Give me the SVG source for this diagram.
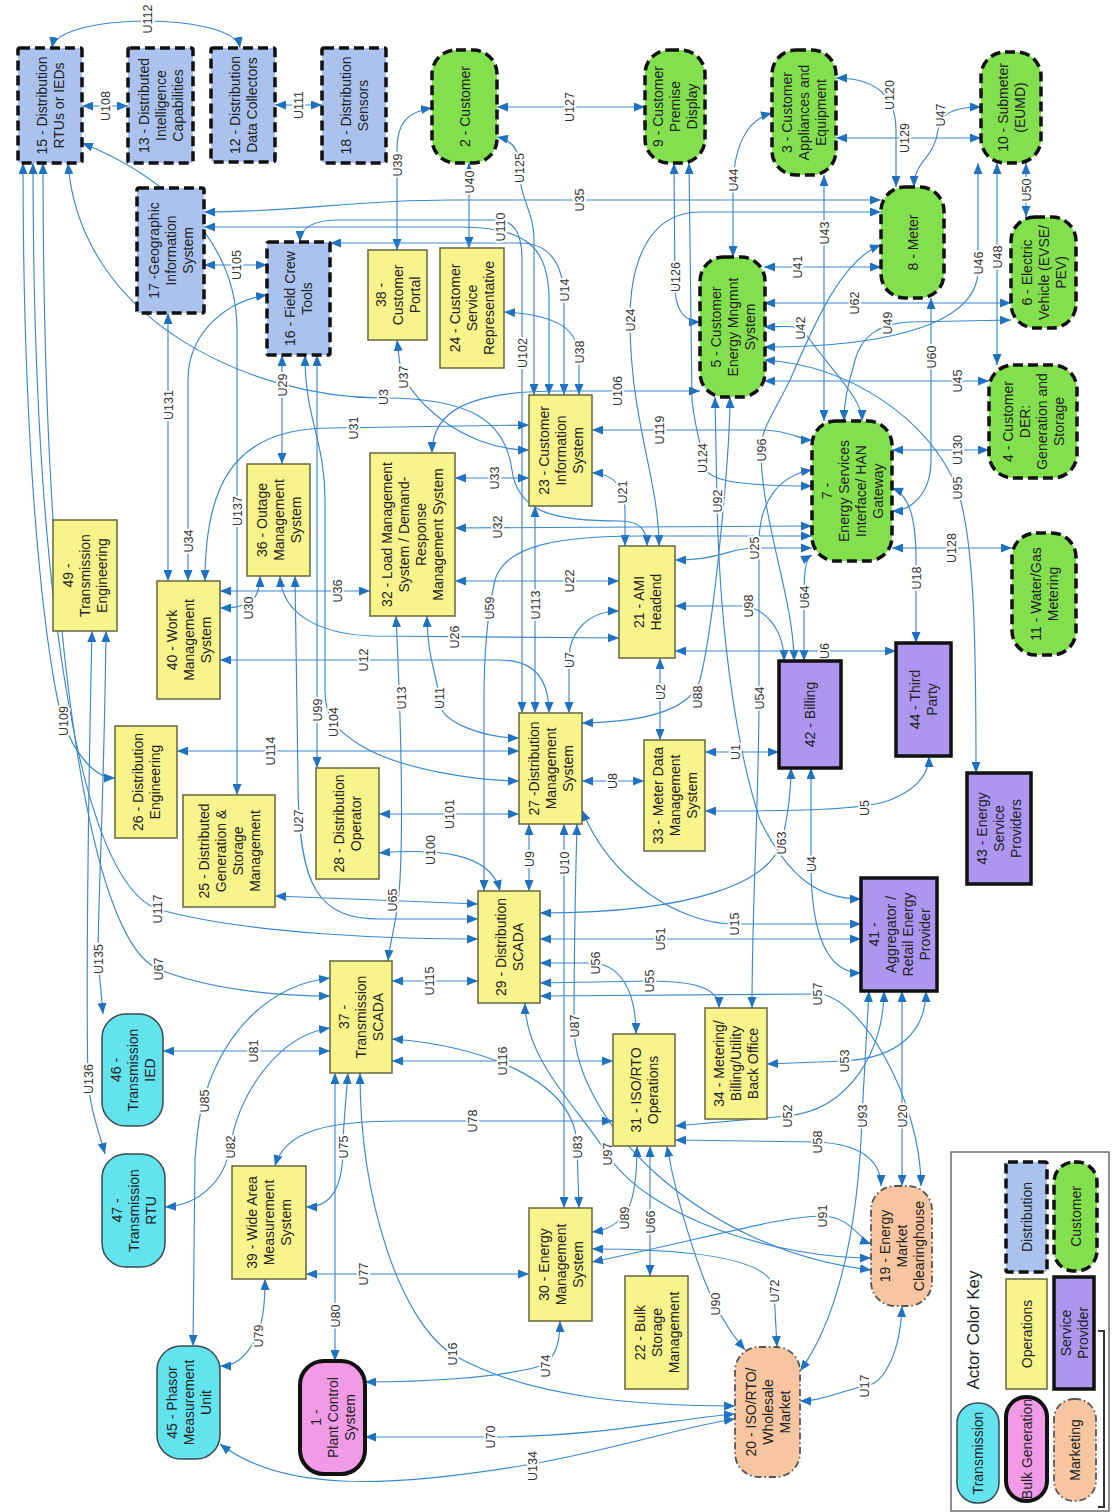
<svg xmlns="http://www.w3.org/2000/svg" width="1116" height="1512" viewBox="0 0 1116 1512">
<defs>
<marker id="a" viewBox="0 0 11 9" refX="11" refY="4.5" markerWidth="11" markerHeight="9" markerUnits="userSpaceOnUse" orient="auto-start-reverse"><path d="M0,0 L11,4.5 L0,9 z" fill="#1f72bf"/></marker>
<style>
.c{fill:none;stroke:#3a88cf;stroke-width:1.15;marker-start:url(#a);marker-end:url(#a)}
.l{font-family:"Liberation Sans",Arial,sans-serif;font-size:12.5px;fill:#333;text-anchor:middle;stroke:#fff;stroke-width:4;paint-order:stroke;stroke-linejoin:round}
.t{font-family:"Liberation Sans",Arial,sans-serif;font-size:14px;fill:#222;text-anchor:middle}
.dist{fill:#abc2ef;stroke:#111;stroke-width:3.5;stroke-dasharray:10 5}
.cust{fill:#82e04e;stroke:#111;stroke-width:3.5;stroke-dasharray:10 5}
.ops{fill:#f8f48c;stroke:#66663c;stroke-width:1.5}
.sp{fill:#ac96f0;stroke:#111;stroke-width:3.5}
.tr{fill:#63e3ee;stroke:#3a4a50;stroke-width:1.5}
.bg{fill:#f19ae6;stroke:#111;stroke-width:4}
.mk{fill:#f7c6a0;stroke:#555;stroke-width:1.8;stroke-dasharray:7 3 1.5 3}
</style>
</defs>
<rect width="1116" height="1512" fill="#fff"/>
<g id="connectors">
<path class="c" d="M52,48 C58,12 234,12 240,48"/>
<path class="c" d="M82,106 L128,106"/>
<path class="c" d="M275,105 L322,105"/>
<path class="c" d="M204,265 L267,265"/>
<path class="c" d="M497,107 L645,107"/>
<path class="c" d="M432,108 C405,112 397,125 397,150 L397,250"/>
<path class="c" d="M469,163 L469,248"/>
<path class="c" d="M497,137 C512,140 519,150 519,165 C519,200 534,210 534,240 L534,395"/>
<path class="c" d="M204,212 C300,212 350,200 450,200 L881,200"/>
<path class="c" d="M204,227 L460,227 C530,227 549,250 549,300 L549,395"/>
<path class="c" d="M330,243 L520,243 C550,243 564,265 564,300 L564,395"/>
<path class="c" d="M300,242 C300,228 312,220 340,220 L495,220 C514,220 522,232 522,260 L522,713"/>
<path class="c" d="M504,312 C560,315 579,330 579,360 L579,395"/>
<path class="c" d="M772,113 C745,120 733,150 733,190 L733,257"/>
<path class="c" d="M674,163 L675,290 C676,310 685,322 700,322"/>
<path class="c" d="M689,163 L692,400 C695,430 702,445 702,460 C702,480 730,486 812,486"/>
<path class="c" d="M836,78 C880,78 896,100 896,130 L896,187"/>
<path class="c" d="M836,138 L981,138"/>
<path class="c" d="M981,107 C950,107 941,115 938,130 C934,160 914,160 914,187"/>
<path class="c" d="M1026,163 L1026,217"/>
<path class="c" d="M978,163 L978,270 C978,320 900,347 764,347"/>
<path class="c" d="M997,163 L997,365"/>
<path class="c" d="M764,303 L1011,303"/>
<path class="c" d="M764,267 L881,267"/>
<path class="c" d="M824,175 L824,421"/>
<path class="c" d="M764,327 C790,327 799,322 810,340 C840,380 862,400 862,421"/>
<path class="c" d="M1011,320 L910,322 C880,323 862,335 855,360 C850,380 844,395 844,421"/>
<path class="c" d="M931,298 L931,460 C931,495 910,511 892,511"/>
<path class="c" d="M881,212 L700,212 C650,212 630,260 630,320 C630,420 659,480 659,546"/>
<path class="c" d="M881,245 C840,260 812,330 790,380 C770,420 761,430 761,450 C761,520 794,600 794,661"/>
<path class="c" d="M764,381 L989,381"/>
<path class="c" d="M764,360 C850,365 930,420 957,488 C975,540 976,650 976,773"/>
<path class="c" d="M892,450 L989,450"/>
<path class="c" d="M892,548 L1012,548"/>
<path class="c" d="M892,488 C910,495 916,520 916,560 L916,643"/>
<path class="c" d="M700,391 L560,391 C470,391 432,410 432,453"/>
<path class="c" d="M592,430 L760,430 C790,430 800,440 812,440"/>
<path class="c" d="M592,473 C615,473 625,490 625,510 L625,546"/>
<path class="c" d="M68,163 C80,320 250,398 383,398 C470,398 505,420 512,470 C518,515 560,521 620,521 C640,521 647,530 647,546"/>
<path class="c" d="M205,581 C205,490 230,428 330,428 L529,425"/>
<path class="c" d="M397,340 L400,365 C405,395 460,450 529,450"/>
<path class="c" d="M455,478 L529,478"/>
<path class="c" d="M455,528 L812,526"/>
<path class="c" d="M455,581 L619,581"/>
<path class="c" d="M812,536 L640,536 C560,536 505,545 495,580 C488,610 484,650 484,700 L484,891"/>
<path class="c" d="M675,560 C720,560 730,548 754,548 L812,548"/>
<path class="c" d="M812,555 C806,558 804,570 804,595 L804,661"/>
<path class="c" d="M812,470 C780,475 760,500 759,540 L759,698 C759,800 752,900 752,1008"/>
<path class="c" d="M675,606 L740,606 C765,606 784,630 784,661"/>
<path class="c" d="M675,651 L896,651"/>
<path class="c" d="M569,713 L569,660 C569,630 590,611 619,611"/>
<path class="c" d="M535,506 L535,713"/>
<path class="c" d="M220,660 L500,660 C535,660 549,680 549,713"/>
<path class="c" d="M280,576 C282,615 320,634 372,636 L619,638"/>
<path class="c" d="M220,591 L370,591"/>
<path class="c" d="M260,576 C260,600 250,608 220,608"/>
<path class="c" d="M282,355 L282,464"/>
<path class="c" d="M188,581 L188,380 C188,330 230,300 267,295"/>
<path class="c" d="M168,313 L168,581"/>
<path class="c" d="M82,143 C150,170 237,230 237,330 L237,795"/>
<path class="c" d="M427,616 C427,660 439,680 439,700 C439,725 490,738 519,738"/>
<path class="c" d="M396,616 C400,700 404,800 400,880 C398,920 390,940 388,961"/>
<path class="c" d="M177,751 L519,751"/>
<path class="c" d="M305,355 C305,420 325,440 325,500 L325,690 C325,720 338,731 360,745 C400,770 480,781 519,781"/>
<path class="c" d="M317,355 L317,768"/>
<path class="c" d="M379,814 L519,814"/>
<path class="c" d="M379,853 C430,849 490,850 500,891"/>
<path class="c" d="M295,576 L298,780 C298,890 320,919 380,919 L478,919"/>
<path class="c" d="M275,896 L478,904"/>
<path class="c" d="M33,163 C33,600 80,880 157,909 C250,935 400,939 478,939"/>
<path class="c" d="M43,163 C43,650 90,940 158,969 C210,990 280,996 330,996"/>
<path class="c" d="M23,163 C23,500 50,680 63,721 C75,755 95,778 115,778"/>
<path class="c" d="M106,631 C104,800 98,900 98,959 L103,1014"/>
<path class="c" d="M92,631 C88,800 86,1000 88,1079 C90,1110 100,1135 105,1154"/>
<path class="c" d="M193,1346 L195,1160 C197,1130 200,1110 205,1095 C225,1030 270,985 330,978"/>
<path class="c" d="M165,1207 C200,1205 225,1180 230,1147 C240,1090 280,1035 330,1028"/>
<path class="c" d="M163,1051 L330,1051"/>
<path class="c" d="M348,1073 C345,1110 343,1130 343,1147 C343,1190 330,1207 306,1207"/>
<path class="c" d="M335,1073 L335,1361"/>
<path class="c" d="M306,1274 L529,1274"/>
<path class="c" d="M265,1279 C265,1310 262,1325 255,1340 C245,1358 235,1366 220,1366"/>
<path class="c" d="M360,1073 C360,1200 400,1320 452,1354 C530,1400 650,1406 735,1406"/>
<path class="c" d="M560,1321 C560,1350 552,1362 540,1366 C500,1378 420,1382 365,1382"/>
<path class="c" d="M365,1437 L490,1437 C600,1437 680,1418 735,1414"/>
<path class="c" d="M220,1444 C280,1490 380,1490 532,1464 C620,1448 690,1425 735,1419"/>
<path class="c" d="M275,1166 C285,1130 330,1121 400,1121 L613,1121"/>
<path class="c" d="M392,981 L478,981"/>
<path class="c" d="M392,1061 L613,1061"/>
<path class="c" d="M392,1039 C480,1045 577,1080 577,1147 L579,1208"/>
<path class="c" d="M525,1003 C525,1060 580,1110 607,1154 C650,1220 780,1258 871,1258"/>
<path class="c" d="M577,824 C575,900 574,980 574,1026 C574,1120 700,1250 871,1270"/>
<path class="c" d="M529,824 L529,891"/>
<path class="c" d="M564,824 L564,1208"/>
<path class="c" d="M582,781 L644,781"/>
<path class="c" d="M660,658 L660,740"/>
<path class="c" d="M705,752 L779,752"/>
<path class="c" d="M705,811 C800,811 864,810 890,800 C915,790 929,775 929,756"/>
<path class="c" d="M791,768 C791,800 785,830 781,843 C770,880 700,913 540,913"/>
<path class="c" d="M811,768 L811,864 C811,940 830,973 861,973"/>
<path class="c" d="M582,810 C610,880 680,924 734,924 L861,924"/>
<path class="c" d="M540,939 L861,939"/>
<path class="c" d="M715,397 L717,501 C720,650 740,760 760,820 C790,880 820,899 861,899"/>
<path class="c" d="M582,723 C640,722 690,712 700,680 C715,620 730,450 730,397"/>
<path class="c" d="M540,963 L590,963 C620,963 636,990 636,1034"/>
<path class="c" d="M540,983 L649,981 C700,981 719,990 719,1008"/>
<path class="c" d="M540,996 L817,994 C860,994 921,1100 921,1186"/>
<path class="c" d="M767,1064 L844,1061 C900,1058 926,1030 926,991"/>
<path class="c" d="M675,1126 L787,1116 C850,1110 884,1050 884,991"/>
<path class="c" d="M869,991 L862,1116 C858,1250 830,1330 800,1371"/>
<path class="c" d="M902,991 L902,1186"/>
<path class="c" d="M675,1140 L817,1142 C860,1144 881,1160 881,1186"/>
<path class="c" d="M592,1262 C700,1240 780,1216 822,1216 C850,1216 860,1240 871,1244"/>
<path class="c" d="M637,1146 C637,1200 630,1227 592,1232"/>
<path class="c" d="M650,1146 L650,1276"/>
<path class="c" d="M667,1146 C680,1220 705,1285 715,1304 C725,1325 735,1338 745,1350"/>
<path class="c" d="M592,1249 C700,1249 774,1260 774,1291 L777,1347"/>
<path class="c" d="M902,1306 C900,1360 880,1386 864,1386 C840,1392 820,1401 800,1401"/>
</g>
<g id="labels">
<text class="l" transform="rotate(-90 147 19)" x="147" y="19" dy="4.5">U112</text>
<text class="l" transform="rotate(-90 105 106)" x="105" y="106" dy="4.5">U108</text>
<text class="l" transform="rotate(-90 298 105)" x="298" y="105" dy="4.5">U111</text>
<text class="l" transform="rotate(-90 236 265)" x="236" y="265" dy="4.5">U105</text>
<text class="l" transform="rotate(-90 569 107)" x="569" y="107" dy="4.5">U127</text>
<text class="l" transform="rotate(-90 397 165)" x="397" y="165" dy="4.5">U39</text>
<text class="l" transform="rotate(-90 469 182)" x="469" y="182" dy="4.5">U40</text>
<text class="l" transform="rotate(-90 519 168)" x="519" y="168" dy="4.5">U125</text>
<text class="l" transform="rotate(-90 579 200)" x="579" y="200" dy="4.5">U35</text>
<text class="l" transform="rotate(-90 500 227)" x="500" y="227" dy="4.5">U110</text>
<text class="l" transform="rotate(-90 564 290)" x="564" y="290" dy="4.5">U14</text>
<text class="l" transform="rotate(-90 522 353)" x="522" y="353" dy="4.5">U102</text>
<text class="l" transform="rotate(-90 579 352)" x="579" y="352" dy="4.5">U38</text>
<text class="l" transform="rotate(-90 733 180)" x="733" y="180" dy="4.5">U44</text>
<text class="l" transform="rotate(-90 675 277)" x="675" y="277" dy="4.5">U126</text>
<text class="l" transform="rotate(-90 630 320)" x="630" y="320" dy="4.5">U24</text>
<text class="l" transform="rotate(-90 702 458)" x="702" y="458" dy="4.5">U124</text>
<text class="l" transform="rotate(-90 889 95)" x="889" y="95" dy="4.5">U120</text>
<text class="l" transform="rotate(-90 904 138)" x="904" y="138" dy="4.5">U129</text>
<text class="l" transform="rotate(-90 940 115)" x="940" y="115" dy="4.5">U47</text>
<text class="l" transform="rotate(-90 1026 190)" x="1026" y="190" dy="4.5">U50</text>
<text class="l" transform="rotate(-90 978 263)" x="978" y="263" dy="4.5">U46</text>
<text class="l" transform="rotate(-90 997 257)" x="997" y="257" dy="4.5">U48</text>
<text class="l" transform="rotate(-90 854 303)" x="854" y="303" dy="4.5">U62</text>
<text class="l" transform="rotate(-90 797 267)" x="797" y="267" dy="4.5">U41</text>
<text class="l" transform="rotate(-90 824 233)" x="824" y="233" dy="4.5">U43</text>
<text class="l" transform="rotate(-90 800 328)" x="800" y="328" dy="4.5">U42</text>
<text class="l" transform="rotate(-90 887 323)" x="887" y="323" dy="4.5">U49</text>
<text class="l" transform="rotate(-90 931 357)" x="931" y="357" dy="4.5">U60</text>
<text class="l" transform="rotate(-90 761 450)" x="761" y="450" dy="4.5">U96</text>
<text class="l" transform="rotate(-90 957 381)" x="957" y="381" dy="4.5">U45</text>
<text class="l" transform="rotate(-90 957 488)" x="957" y="488" dy="4.5">U95</text>
<text class="l" transform="rotate(-90 957 450)" x="957" y="450" dy="4.5">U130</text>
<text class="l" transform="rotate(-90 951 548)" x="951" y="548" dy="4.5">U128</text>
<text class="l" transform="rotate(-90 916 578)" x="916" y="578" dy="4.5">U18</text>
<text class="l" transform="rotate(-90 617 391)" x="617" y="391" dy="4.5">U106</text>
<text class="l" transform="rotate(-90 659 430)" x="659" y="430" dy="4.5">U119</text>
<text class="l" transform="rotate(-90 622 492)" x="622" y="492" dy="4.5">U21</text>
<text class="l" transform="rotate(-90 383 397)" x="383" y="397" dy="4.5">U3</text>
<text class="l" transform="rotate(-90 353 428)" x="353" y="428" dy="4.5">U31</text>
<text class="l" transform="rotate(-90 403 377)" x="403" y="377" dy="4.5">U37</text>
<text class="l" transform="rotate(-90 494 478)" x="494" y="478" dy="4.5">U33</text>
<text class="l" transform="rotate(-90 497 527)" x="497" y="527" dy="4.5">U32</text>
<text class="l" transform="rotate(-90 569 581)" x="569" y="581" dy="4.5">U22</text>
<text class="l" transform="rotate(-90 489 608)" x="489" y="608" dy="4.5">U59</text>
<text class="l" transform="rotate(-90 754 548)" x="754" y="548" dy="4.5">U25</text>
<text class="l" transform="rotate(-90 804 597)" x="804" y="597" dy="4.5">U64</text>
<text class="l" transform="rotate(-90 759 698)" x="759" y="698" dy="4.5">U54</text>
<text class="l" transform="rotate(-90 748 606)" x="748" y="606" dy="4.5">U98</text>
<text class="l" transform="rotate(-90 824 651)" x="824" y="651" dy="4.5">U6</text>
<text class="l" transform="rotate(-90 569 660)" x="569" y="660" dy="4.5">U7</text>
<text class="l" transform="rotate(-90 535 605)" x="535" y="605" dy="4.5">U113</text>
<text class="l" transform="rotate(-90 363 660)" x="363" y="660" dy="4.5">U12</text>
<text class="l" transform="rotate(-90 454 637)" x="454" y="637" dy="4.5">U26</text>
<text class="l" transform="rotate(-90 337 591)" x="337" y="591" dy="4.5">U36</text>
<text class="l" transform="rotate(-90 248 608)" x="248" y="608" dy="4.5">U30</text>
<text class="l" transform="rotate(-90 282 385)" x="282" y="385" dy="4.5">U29</text>
<text class="l" transform="rotate(-90 188 541)" x="188" y="541" dy="4.5">U34</text>
<text class="l" transform="rotate(-90 168 405)" x="168" y="405" dy="4.5">U131</text>
<text class="l" transform="rotate(-90 237 511)" x="237" y="511" dy="4.5">U137</text>
<text class="l" transform="rotate(-90 439 698)" x="439" y="698" dy="4.5">U11</text>
<text class="l" transform="rotate(-90 401 698)" x="401" y="698" dy="4.5">U13</text>
<text class="l" transform="rotate(-90 270 751)" x="270" y="751" dy="4.5">U114</text>
<text class="l" transform="rotate(-90 333 722)" x="333" y="722" dy="4.5">U104</text>
<text class="l" transform="rotate(-90 317 710)" x="317" y="710" dy="4.5">U99</text>
<text class="l" transform="rotate(-90 449 814)" x="449" y="814" dy="4.5">U101</text>
<text class="l" transform="rotate(-90 430 850)" x="430" y="850" dy="4.5">U100</text>
<text class="l" transform="rotate(-90 298 821)" x="298" y="821" dy="4.5">U27</text>
<text class="l" transform="rotate(-90 392 900)" x="392" y="900" dy="4.5">U65</text>
<text class="l" transform="rotate(-90 157 909)" x="157" y="909" dy="4.5">U117</text>
<text class="l" transform="rotate(-90 158 969)" x="158" y="969" dy="4.5">U67</text>
<text class="l" transform="rotate(-90 63 721)" x="63" y="721" dy="4.5">U109</text>
<text class="l" transform="rotate(-90 98 959)" x="98" y="959" dy="4.5">U135</text>
<text class="l" transform="rotate(-90 88 1079)" x="88" y="1079" dy="4.5">U136</text>
<text class="l" transform="rotate(-90 204 1101)" x="204" y="1101" dy="4.5">U85</text>
<text class="l" transform="rotate(-90 230 1147)" x="230" y="1147" dy="4.5">U82</text>
<text class="l" transform="rotate(-90 253 1051)" x="253" y="1051" dy="4.5">U81</text>
<text class="l" transform="rotate(-90 343 1147)" x="343" y="1147" dy="4.5">U75</text>
<text class="l" transform="rotate(-90 335 1316)" x="335" y="1316" dy="4.5">U80</text>
<text class="l" transform="rotate(-90 363 1274)" x="363" y="1274" dy="4.5">U77</text>
<text class="l" transform="rotate(-90 258 1336)" x="258" y="1336" dy="4.5">U79</text>
<text class="l" transform="rotate(-90 452 1354)" x="452" y="1354" dy="4.5">U16</text>
<text class="l" transform="rotate(-90 545 1366)" x="545" y="1366" dy="4.5">U74</text>
<text class="l" transform="rotate(-90 490 1437)" x="490" y="1437" dy="4.5">U70</text>
<text class="l" transform="rotate(-90 532 1466)" x="532" y="1466" dy="4.5">U134</text>
<text class="l" transform="rotate(-90 472 1121)" x="472" y="1121" dy="4.5">U78</text>
<text class="l" transform="rotate(-90 429 981)" x="429" y="981" dy="4.5">U115</text>
<text class="l" transform="rotate(-90 502 1061)" x="502" y="1061" dy="4.5">U116</text>
<text class="l" transform="rotate(-90 577 1147)" x="577" y="1147" dy="4.5">U83</text>
<text class="l" transform="rotate(-90 607 1154)" x="607" y="1154" dy="4.5">U97</text>
<text class="l" transform="rotate(-90 574 1026)" x="574" y="1026" dy="4.5">U87</text>
<text class="l" transform="rotate(-90 529 859)" x="529" y="859" dy="4.5">U9</text>
<text class="l" transform="rotate(-90 564 863)" x="564" y="863" dy="4.5">U10</text>
<text class="l" transform="rotate(-90 612 781)" x="612" y="781" dy="4.5">U8</text>
<text class="l" transform="rotate(-90 660 692)" x="660" y="692" dy="4.5">U2</text>
<text class="l" transform="rotate(-90 735 752)" x="735" y="752" dy="4.5">U1</text>
<text class="l" transform="rotate(-90 864 808)" x="864" y="808" dy="4.5">U5</text>
<text class="l" transform="rotate(-90 781 843)" x="781" y="843" dy="4.5">U63</text>
<text class="l" transform="rotate(-90 811 864)" x="811" y="864" dy="4.5">U4</text>
<text class="l" transform="rotate(-90 734 924)" x="734" y="924" dy="4.5">U15</text>
<text class="l" transform="rotate(-90 660 939)" x="660" y="939" dy="4.5">U51</text>
<text class="l" transform="rotate(-90 717 501)" x="717" y="501" dy="4.5">U92</text>
<text class="l" transform="rotate(-90 697 697)" x="697" y="697" dy="4.5">U88</text>
<text class="l" transform="rotate(-90 595 963)" x="595" y="963" dy="4.5">U56</text>
<text class="l" transform="rotate(-90 649 981)" x="649" y="981" dy="4.5">U55</text>
<text class="l" transform="rotate(-90 817 994)" x="817" y="994" dy="4.5">U57</text>
<text class="l" transform="rotate(-90 844 1061)" x="844" y="1061" dy="4.5">U53</text>
<text class="l" transform="rotate(-90 787 1116)" x="787" y="1116" dy="4.5">U52</text>
<text class="l" transform="rotate(-90 862 1116)" x="862" y="1116" dy="4.5">U93</text>
<text class="l" transform="rotate(-90 902 1116)" x="902" y="1116" dy="4.5">U20</text>
<text class="l" transform="rotate(-90 817 1142)" x="817" y="1142" dy="4.5">U58</text>
<text class="l" transform="rotate(-90 822 1216)" x="822" y="1216" dy="4.5">U91</text>
<text class="l" transform="rotate(-90 624 1218)" x="624" y="1218" dy="4.5">U89</text>
<text class="l" transform="rotate(-90 650 1222)" x="650" y="1222" dy="4.5">U66</text>
<text class="l" transform="rotate(-90 715 1304)" x="715" y="1304" dy="4.5">U90</text>
<text class="l" transform="rotate(-90 774 1291)" x="774" y="1291" dy="4.5">U72</text>
<text class="l" transform="rotate(-90 864 1386)" x="864" y="1386" dy="4.5">U17</text>
</g>
<g id="nodes">
<g id="n15"><rect class="dist" x="18" y="48" width="64" height="115" rx="2"/><text class="t" transform="rotate(-90 50 105.5)" x="50" y="105.5"><tspan x="50" dy="-3.5">15 - Distribution</tspan><tspan x="50" dy="17">RTUs or IEDs</tspan></text></g>
<g id="n13"><rect class="dist" x="128" y="48" width="65" height="115" rx="2"/><text class="t" transform="rotate(-90 160.5 105.5)" x="160.5" y="105.5"><tspan x="160.5" dy="-12">13 - Distributed</tspan><tspan x="160.5" dy="17">Intelligence</tspan><tspan x="160.5" dy="17">Capabilities</tspan></text></g>
<g id="n12"><rect class="dist" x="211" y="48" width="64" height="114" rx="2"/><text class="t" transform="rotate(-90 243 105)" x="243" y="105"><tspan x="243" dy="-3.5">12 - Distribution</tspan><tspan x="243" dy="17">Data Collectors</tspan></text></g>
<g id="n18"><rect class="dist" x="322" y="48" width="64" height="115" rx="2"/><text class="t" transform="rotate(-90 354 105.5)" x="354" y="105.5"><tspan x="354" dy="-3.5">18 - Distribution</tspan><tspan x="354" dy="17">Sensors</tspan></text></g>
<g id="n17"><rect class="dist" x="137" y="188" width="67" height="125" rx="2"/><text class="t" transform="rotate(-90 170.5 250.5)" x="170.5" y="250.5"><tspan x="170.5" dy="-12">17 -Geographic</tspan><tspan x="170.5" dy="17">Information</tspan><tspan x="170.5" dy="17">System</tspan></text></g>
<g id="n16"><rect class="dist" x="267" y="242" width="63" height="113" rx="2"/><text class="t" transform="rotate(-90 298.5 298.5)" x="298.5" y="298.5"><tspan x="298.5" dy="-3.5">16 - Field Crew</tspan><tspan x="298.5" dy="17">Tools</tspan></text></g>
<g id="n2"><rect class="cust" x="432" y="50" width="65" height="113" rx="24"/><text class="t" transform="rotate(-90 464.5 106.5)" x="464.5" y="106.5"><tspan x="464.5" dy="5">2 - Customer</tspan></text></g>
<g id="n9"><rect class="cust" x="645" y="50" width="60" height="113" rx="24"/><text class="t" transform="rotate(-90 675 106.5)" x="675" y="106.5"><tspan x="675" dy="-12">9 - Customer</tspan><tspan x="675" dy="17">Premise</tspan><tspan x="675" dy="17">Display</tspan></text></g>
<g id="n3"><rect class="cust" x="772" y="50" width="64" height="125" rx="24"/><text class="t" transform="rotate(-90 804 112.5)" x="804" y="112.5"><tspan x="804" dy="-12">3 - Customer</tspan><tspan x="804" dy="17">Appliances and</tspan><tspan x="804" dy="17">Equipment</tspan></text></g>
<g id="n10"><rect class="cust" x="981" y="52" width="60" height="111" rx="24"/><text class="t" transform="rotate(-90 1011 107.5)" x="1011" y="107.5"><tspan x="1011" dy="-3.5">10 - Submeter</tspan><tspan x="1011" dy="17">(EUMD)</tspan></text></g>
<g id="n8"><rect class="cust" x="881" y="187" width="63" height="111" rx="24"/><text class="t" transform="rotate(-90 912.5 242.5)" x="912.5" y="242.5"><tspan x="912.5" dy="5">8 - Meter</tspan></text></g>
<g id="n6"><rect class="cust" x="1011" y="217" width="65" height="111" rx="24"/><text class="t" transform="rotate(-90 1043.5 272.5)" x="1043.5" y="272.5"><tspan x="1043.5" dy="-12">6 - Electric</tspan><tspan x="1043.5" dy="17">Vehicle (EVSE/</tspan><tspan x="1043.5" dy="17">PEV)</tspan></text></g>
<g id="n5"><rect class="cust" x="700" y="257" width="65" height="140" rx="24"/><text class="t" transform="rotate(-90 732.5 327)" x="732.5" y="327"><tspan x="732.5" dy="-12">5 - Customer</tspan><tspan x="732.5" dy="17">Energy Mngmnt</tspan><tspan x="732.5" dy="17">System</tspan></text></g>
<g id="n38"><rect class="ops" x="368" y="250" width="59" height="90"/><text class="t" transform="rotate(-90 397.5 295)" x="397.5" y="295"><tspan x="397.5" dy="-12">38 -</tspan><tspan x="397.5" dy="17">Customer</tspan><tspan x="397.5" dy="17">Portal</tspan></text></g>
<g id="n24"><rect class="ops" x="440" y="248" width="64" height="120"/><text class="t" transform="rotate(-90 472 308)" x="472" y="308"><tspan x="472" dy="-12">24 - Customer</tspan><tspan x="472" dy="17">Service</tspan><tspan x="472" dy="17">Representative</tspan></text></g>
<g id="n23"><rect class="ops" x="529" y="395" width="63" height="111"/><text class="t" transform="rotate(-90 560.5 450.5)" x="560.5" y="450.5"><tspan x="560.5" dy="-12">23 - Customer</tspan><tspan x="560.5" dy="17">Information</tspan><tspan x="560.5" dy="17">System</tspan></text></g>
<g id="n32"><rect class="ops" x="370" y="453" width="85" height="163"/><text class="t" transform="rotate(-90 412.5 534.5)" x="412.5" y="534.5"><tspan x="412.5" dy="-20.5">32 - Load Management</tspan><tspan x="412.5" dy="17">System / Demand-</tspan><tspan x="412.5" dy="17">Response</tspan><tspan x="412.5" dy="17">Management System</tspan></text></g>
<g id="n36"><rect class="ops" x="247" y="464" width="63" height="112"/><text class="t" transform="rotate(-90 278.5 520)" x="278.5" y="520"><tspan x="278.5" dy="-12">36 - Outage</tspan><tspan x="278.5" dy="17">Management</tspan><tspan x="278.5" dy="17">System</tspan></text></g>
<g id="n40"><rect class="ops" x="157" y="581" width="63" height="118"/><text class="t" transform="rotate(-90 188.5 640)" x="188.5" y="640"><tspan x="188.5" dy="-12">40 - Work</tspan><tspan x="188.5" dy="17">Management</tspan><tspan x="188.5" dy="17">System</tspan></text></g>
<g id="n49"><rect class="ops" x="53" y="520" width="64" height="111"/><text class="t" transform="rotate(-90 85 575.5)" x="85" y="575.5"><tspan x="85" dy="-12">49 -</tspan><tspan x="85" dy="17">Transmission</tspan><tspan x="85" dy="17">Engineering</tspan></text></g>
<g id="n21"><rect class="ops" x="619" y="546" width="56" height="112"/><text class="t" transform="rotate(-90 647 602)" x="647" y="602"><tspan x="647" dy="-3.5">21 - AMI</tspan><tspan x="647" dy="17">Headend</tspan></text></g>
<g id="n7"><rect class="cust" x="812" y="421" width="80" height="140" rx="24"/><text class="t" transform="rotate(-90 852 491)" x="852" y="491"><tspan x="852" dy="-20.5">7 -</tspan><tspan x="852" dy="17">Energy Services</tspan><tspan x="852" dy="17">Interface/ HAN</tspan><tspan x="852" dy="17">Gateway</tspan></text></g>
<g id="n4"><rect class="cust" x="989" y="365" width="88" height="113" rx="24"/><text class="t" transform="rotate(-90 1033 421.5)" x="1033" y="421.5"><tspan x="1033" dy="-20.5">4 - Customer</tspan><tspan x="1033" dy="17">DER:</tspan><tspan x="1033" dy="17">Generation and</tspan><tspan x="1033" dy="17">Storage</tspan></text></g>
<g id="n11"><rect class="cust" x="1012" y="533" width="64" height="122" rx="24"/><text class="t" transform="rotate(-90 1044 594)" x="1044" y="594"><tspan x="1044" dy="-3.5">11 - Water/Gas</tspan><tspan x="1044" dy="17">Metering</tspan></text></g>
<g id="n42"><rect class="sp" x="779" y="661" width="62" height="107"/><text class="t" transform="rotate(-90 810 714.5)" x="810" y="714.5"><tspan x="810" dy="5">42 - Billing</tspan></text></g>
<g id="n44"><rect class="sp" x="896" y="643" width="55" height="113"/><text class="t" transform="rotate(-90 923.5 699.5)" x="923.5" y="699.5"><tspan x="923.5" dy="-3.5">44 - Third</tspan><tspan x="923.5" dy="17">Party</tspan></text></g>
<g id="n27"><rect class="ops" x="519" y="713" width="63" height="111"/><text class="t" transform="rotate(-90 550.5 768.5)" x="550.5" y="768.5"><tspan x="550.5" dy="-12">27 -Distribution</tspan><tspan x="550.5" dy="17">Management</tspan><tspan x="550.5" dy="17">System</tspan></text></g>
<g id="n33"><rect class="ops" x="644" y="740" width="61" height="111"/><text class="t" transform="rotate(-90 674.5 795.5)" x="674.5" y="795.5"><tspan x="674.5" dy="-12">33 - Meter Data</tspan><tspan x="674.5" dy="17">Management</tspan><tspan x="674.5" dy="17">System</tspan></text></g>
<g id="n26"><rect class="ops" x="115" y="726" width="62" height="112"/><text class="t" transform="rotate(-90 146 782)" x="146" y="782"><tspan x="146" dy="-3.5">26 - Distribution</tspan><tspan x="146" dy="17">Engineering</tspan></text></g>
<g id="n28"><rect class="ops" x="316" y="768" width="63" height="111"/><text class="t" transform="rotate(-90 347.5 823.5)" x="347.5" y="823.5"><tspan x="347.5" dy="-3.5">28 - Distribution</tspan><tspan x="347.5" dy="17">Operator</tspan></text></g>
<g id="n25"><rect class="ops" x="183" y="795" width="92" height="112"/><text class="t" transform="rotate(-90 229 851)" x="229" y="851"><tspan x="229" dy="-20.5">25 - Distributed</tspan><tspan x="229" dy="17">Generation &amp;</tspan><tspan x="229" dy="17">Storage</tspan><tspan x="229" dy="17">Management</tspan></text></g>
<g id="n29"><rect class="ops" x="478" y="891" width="62" height="112"/><text class="t" transform="rotate(-90 509 947)" x="509" y="947"><tspan x="509" dy="-3.5">29 - Distribution</tspan><tspan x="509" dy="17">SCADA</tspan></text></g>
<g id="n43"><rect class="sp" x="967" y="773" width="64" height="111"/><text class="t" transform="rotate(-90 999 828.5)" x="999" y="828.5"><tspan x="999" dy="-12">43 - Energy</tspan><tspan x="999" dy="17">Service</tspan><tspan x="999" dy="17">Providers</tspan></text></g>
<g id="n41"><rect class="sp" x="861" y="878" width="76" height="113"/><text class="t" transform="rotate(-90 899 934.5)" x="899" y="934.5"><tspan x="899" dy="-20.5">41 -</tspan><tspan x="899" dy="17">Aggregator /</tspan><tspan x="899" dy="17">Retail Energy</tspan><tspan x="899" dy="17">Provider</tspan></text></g>
<g id="n37"><rect class="ops" x="330" y="961" width="62" height="112"/><text class="t" transform="rotate(-90 361 1017)" x="361" y="1017"><tspan x="361" dy="-12">37 -</tspan><tspan x="361" dy="17">Transmission</tspan><tspan x="361" dy="17">SCADA</tspan></text></g>
<g id="n46"><rect class="tr" x="102" y="1014" width="61" height="112" rx="24"/><text class="t" transform="rotate(-90 132.5 1070)" x="132.5" y="1070"><tspan x="132.5" dy="-12">46 -</tspan><tspan x="132.5" dy="17">Transmission</tspan><tspan x="132.5" dy="17">IED</tspan></text></g>
<g id="n31"><rect class="ops" x="613" y="1034" width="62" height="112"/><text class="t" transform="rotate(-90 644 1090)" x="644" y="1090"><tspan x="644" dy="-3.5">31 - ISO/RTO</tspan><tspan x="644" dy="17">Operations</tspan></text></g>
<g id="n34"><rect class="ops" x="705" y="1008" width="62" height="111"/><text class="t" transform="rotate(-90 736 1063.5)" x="736" y="1063.5"><tspan x="736" dy="-12">34 - Metering/</tspan><tspan x="736" dy="17">Billing/Utility</tspan><tspan x="736" dy="17">Back Office</tspan></text></g>
<g id="n47"><rect class="tr" x="102" y="1154" width="63" height="113" rx="24"/><text class="t" transform="rotate(-90 133.5 1210.5)" x="133.5" y="1210.5"><tspan x="133.5" dy="-12">47 -</tspan><tspan x="133.5" dy="17">Transmission</tspan><tspan x="133.5" dy="17">RTU</tspan></text></g>
<g id="n39"><rect class="ops" x="232" y="1166" width="74" height="113"/><text class="t" transform="rotate(-90 269 1222.5)" x="269" y="1222.5"><tspan x="269" dy="-12">39 - Wide Area</tspan><tspan x="269" dy="17">Measurement</tspan><tspan x="269" dy="17">System</tspan></text></g>
<g id="n30"><rect class="ops" x="529" y="1208" width="63" height="113"/><text class="t" transform="rotate(-90 560.5 1264.5)" x="560.5" y="1264.5"><tspan x="560.5" dy="-12">30 - Energy</tspan><tspan x="560.5" dy="17">Management</tspan><tspan x="560.5" dy="17">System</tspan></text></g>
<g id="n22"><rect class="ops" x="625" y="1276" width="63" height="113"/><text class="t" transform="rotate(-90 656.5 1332.5)" x="656.5" y="1332.5"><tspan x="656.5" dy="-12">22 - Bulk</tspan><tspan x="656.5" dy="17">Storage</tspan><tspan x="656.5" dy="17">Management</tspan></text></g>
<g id="n19"><rect class="mk" x="871" y="1186" width="61" height="120" rx="24"/><text class="t" transform="rotate(-90 901.5 1246)" x="901.5" y="1246"><tspan x="901.5" dy="-12">19 - Energy</tspan><tspan x="901.5" dy="17">Market</tspan><tspan x="901.5" dy="17">Clearinghouse</tspan></text></g>
<g id="n45"><rect class="tr" x="157" y="1346" width="63" height="113" rx="24"/><text class="t" transform="rotate(-90 188.5 1402.5)" x="188.5" y="1402.5"><tspan x="188.5" dy="-12">45 - Phasor</tspan><tspan x="188.5" dy="17">Measurement</tspan><tspan x="188.5" dy="17">Unit</tspan></text></g>
<g id="n1"><rect class="bg" x="300" y="1361" width="65" height="113" rx="24"/><text class="t" transform="rotate(-90 332.5 1417.5)" x="332.5" y="1417.5"><tspan x="332.5" dy="-12">1 -</tspan><tspan x="332.5" dy="17">Plant Control</tspan><tspan x="332.5" dy="17">System</tspan></text></g>
<g id="n20"><rect class="mk" x="735" y="1347" width="65" height="130" rx="24"/><text class="t" transform="rotate(-90 767.5 1412)" x="767.5" y="1412"><tspan x="767.5" dy="-12">20 - ISO/RTO/</tspan><tspan x="767.5" dy="17">Wholesale</tspan><tspan x="767.5" dy="17">Market</tspan></text></g>
</g>
<g id="legend">
<rect x="951" y="1152" width="158" height="359" fill="#fff" stroke="#555" stroke-width="1.3"/>
<path d="M1098,1331 H1104 V1507 H1098" fill="none" stroke="#333" stroke-width="2"/>
<text class="t" style="font-size:17px" transform="rotate(-90 973 1330)" x="973" y="1330" dy="6">Actor Color Key</text>
<rect class="dist" x="1006" y="1162" width="41" height="110" rx="2"/>
<text class="t" transform="rotate(-90 1026.5 1217)" x="1026.5" y="1217" dy="5">Distribution</text>
<rect class="cust" x="1054" y="1162" width="43" height="109" rx="20"/>
<text class="t" transform="rotate(-90 1075.5 1216.5)" x="1075.5" y="1216.5" dy="5">Customer</text>
<rect class="ops" x="1006" y="1279" width="41" height="110"/>
<text class="t" transform="rotate(-90 1026.5 1334)" x="1026.5" y="1334" dy="5">Operations</text>
<rect class="sp" x="1054" y="1277" width="40" height="112"/>
<text class="t" transform="rotate(-90 1074 1333)" x="1074" y="1333"><tspan x="1074" dy="-3.5">Service</tspan><tspan x="1074" dy="17">Provider</tspan></text>
<rect class="tr" x="957" y="1403" width="42" height="100" rx="20"/>
<text class="t" transform="rotate(-90 978 1453)" x="978" y="1453" dy="5">Transmission</text>
<rect class="bg" x="1006" y="1397" width="41" height="104" rx="20"/>
<text class="t" transform="rotate(-90 1026.5 1449)" x="1026.5" y="1449" dy="5">Bulk Generation</text>
<rect class="mk" x="1054" y="1399" width="42" height="102" rx="20"/>
<text class="t" transform="rotate(-90 1075 1450)" x="1075" y="1450" dy="5">Marketing</text>
</g>
</svg>
